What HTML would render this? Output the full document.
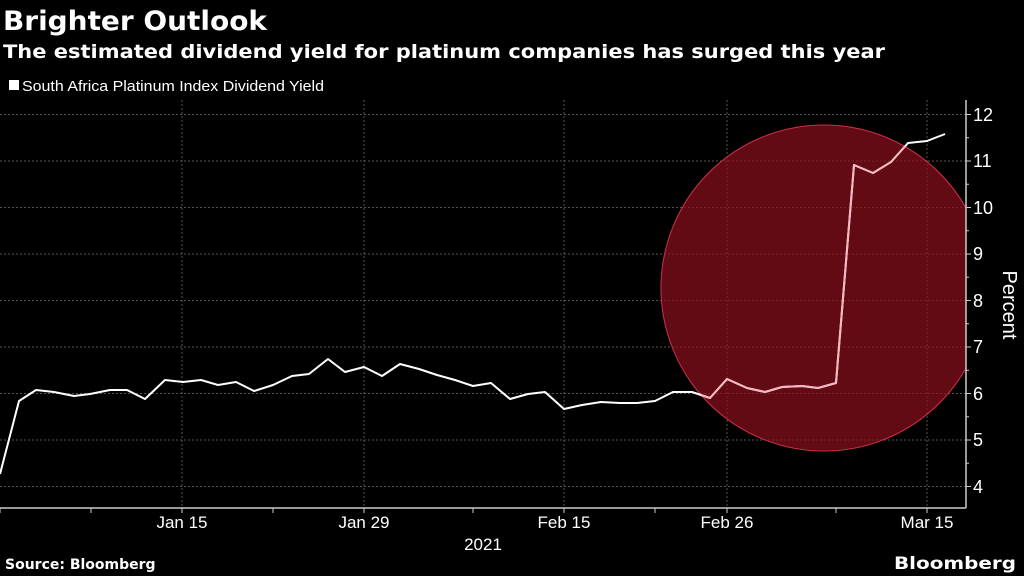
<!DOCTYPE html>
<html><head><meta charset="utf-8"><style>
html,body{margin:0;padding:0;background:#000;width:1024px;height:576px;overflow:hidden}
svg{display:block}
text{font-family:"DejaVu Sans","Liberation Sans",sans-serif;fill:#fff}
.n{font-family:"Liberation Sans",sans-serif}
</style></head><body>
<svg width="1024" height="576" viewBox="0 0 1024 576">
<defs><clipPath id="pc"><rect x="0" y="100" width="966" height="408"/></clipPath>
<clipPath id="cc"><circle cx="824" cy="288" r="163"/></clipPath></defs>
<text x="3" y="30" font-size="27" font-weight="bold" textLength="264" lengthAdjust="spacingAndGlyphs">Brighter Outlook</text>
<text x="3" y="58" font-size="19" font-weight="bold" textLength="882" lengthAdjust="spacingAndGlyphs">The estimated dividend yield for platinum companies has surged this year</text>
<rect x="9" y="80" width="10" height="10" fill="#fff"/>
<text class="n" x="22" y="91" font-size="15" fill="#ddd" textLength="302" lengthAdjust="spacingAndGlyphs">South Africa Platinum Index Dividend Yield</text>
<g stroke="#555" stroke-width="1" stroke-dasharray="2,2">
<line x1="0" x2="966" y1="114.5" y2="114.5"/><line x1="0" x2="966" y1="161" y2="161"/><line x1="0" x2="966" y1="207.5" y2="207.5"/><line x1="0" x2="966" y1="254" y2="254"/><line x1="0" x2="966" y1="300.5" y2="300.5"/><line x1="0" x2="966" y1="347" y2="347"/><line x1="0" x2="966" y1="393.5" y2="393.5"/><line x1="0" x2="966" y1="440" y2="440"/><line x1="0" x2="966" y1="486.5" y2="486.5"/>
<line x1="182" x2="182" y1="100" y2="508"/><line x1="364" x2="364" y1="100" y2="508"/><line x1="564" x2="564" y1="100" y2="508"/><line x1="727" x2="727" y1="100" y2="508"/><line x1="927" x2="927" y1="100" y2="508"/>
</g>
<circle cx="824" cy="288" r="163" fill="#8b0f1e" fill-opacity="0.7" stroke="#d0304a" stroke-width="1" clip-path="url(#pc)"/>
<polyline fill="none" stroke="#fff" stroke-width="2" stroke-linejoin="round" clip-path="url(#pc)" points="0,474 19,401 36,390 54,392 74,396 90,394 110,390 127,390 145,399 165,380 183,382 201,380 218,385 236,382 254,391 273,385 292,376 309,374 328,359 345,372 364,367 382,376 400,364 419,369 437,375 455,380 473,386 491,383 510,399 528,394 545,392 564,409 582,405 601,402 620,403 637,403 655,401 673,392 692,392 710,398 727,379 747,388 765,392 782,387 802,386 818,388 836,383 854,165 873,173 891,162 908,143 927,141 945,134"/>
<polyline fill="none" stroke="#f4b8c0" stroke-width="2" stroke-linejoin="round" clip-path="url(#cc)" points="692,392 710,398 727,379 747,388 765,392 782,387 802,386 818,388 836,383 854,165 873,173 891,162 908,143 927,141"/>
<g stroke="#ccc" stroke-width="1.5">
<line x1="0" x2="966" y1="508" y2="508"/>
<line x1="966" x2="966" y1="100" y2="508"/>
</g>
<g stroke="#ccc" stroke-width="1">
<line x1="0" x2="0" y1="508" y2="513"/><line x1="91" x2="91" y1="508" y2="513"/><line x1="182" x2="182" y1="508" y2="513"/><line x1="273" x2="273" y1="508" y2="513"/><line x1="364" x2="364" y1="508" y2="513"/><line x1="473" x2="473" y1="508" y2="513"/><line x1="564" x2="564" y1="508" y2="513"/><line x1="655" x2="655" y1="508" y2="513"/><line x1="727" x2="727" y1="508" y2="513"/><line x1="836" x2="836" y1="508" y2="513"/><line x1="927" x2="927" y1="508" y2="513"/>
<line x1="966" x2="971" y1="114.5" y2="114.5"/><line x1="966" x2="971" y1="161" y2="161"/><line x1="966" x2="971" y1="207.5" y2="207.5"/><line x1="966" x2="971" y1="254" y2="254"/><line x1="966" x2="971" y1="300.5" y2="300.5"/><line x1="966" x2="971" y1="347" y2="347"/><line x1="966" x2="971" y1="393.5" y2="393.5"/><line x1="966" x2="971" y1="440" y2="440"/><line x1="966" x2="971" y1="486.5" y2="486.5"/>
<line x1="966" x2="969" y1="137.75" y2="137.75"/><line x1="966" x2="969" y1="184.25" y2="184.25"/><line x1="966" x2="969" y1="230.75" y2="230.75"/><line x1="966" x2="969" y1="277.25" y2="277.25"/><line x1="966" x2="969" y1="323.75" y2="323.75"/><line x1="966" x2="969" y1="370.25" y2="370.25"/><line x1="966" x2="969" y1="416.75" y2="416.75"/><line x1="966" x2="969" y1="463.25" y2="463.25"/>
</g>
<g class="n" font-size="18" fill="#ddd">
<text class="n" x="973" y="121">12</text><text class="n" x="973" y="167">11</text><text class="n" x="973" y="214">10</text><text class="n" x="973" y="260">9</text><text class="n" x="973" y="307">8</text><text class="n" x="973" y="353">7</text><text class="n" x="973" y="400">6</text><text class="n" x="973" y="446">5</text><text class="n" x="973" y="493">4</text>
</g>
<text class="n" transform="translate(1003,305) rotate(90)" font-size="20" fill="#ddd" text-anchor="middle">Percent</text>
<g font-size="17" fill="#ddd" text-anchor="middle">
<text class="n" x="182" y="528">Jan 15</text><text class="n" x="364" y="528">Jan 29</text><text class="n" x="564" y="528">Feb 15</text><text class="n" x="727" y="528">Feb 26</text><text class="n" x="927" y="528">Mar 15</text>
<text class="n" x="483" y="550">2021</text>
</g>
<text x="5" y="569" font-size="14" font-weight="bold">Source: Bloomberg</text>
<text x="1016" y="569" font-size="17" font-weight="bold" text-anchor="end" textLength="122" lengthAdjust="spacingAndGlyphs">Bloomberg</text>
</svg>
</body></html>
